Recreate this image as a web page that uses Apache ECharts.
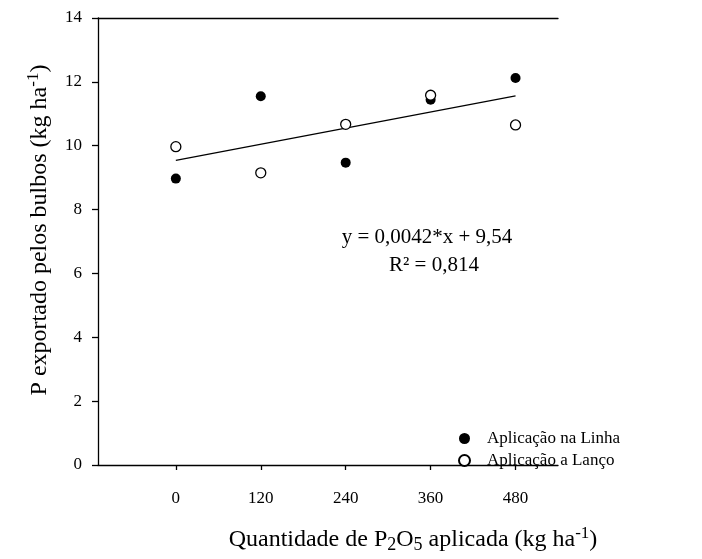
<!DOCTYPE html>
<html>
<head>
<meta charset="utf-8">
<script src="https://cdn.jsdelivr.net/npm/echarts@6/dist/echarts.min.js"></script>
<style>
  html, body { margin: 0; padding: 0; background: #fff; }
  #chart { width: 702px; height: 559px; }
</style>
</head>
<body>
<div id="chart"></div>
<script>
// doses de P2O5 (kg/ha)
const doses = [0, 120, 240, 360, 480]
const linha = [8.97, 11.55, 9.47, 11.44, 12.12]
const lanco = [9.97, 9.15, 10.67, 11.58, 10.65]
// reta ajustada, pontos extremos
const fitX = [0, 480]
const fitY = [9.54, 11.56]
const yTicks = [0, 2, 4, 6, 8, 10, 12, 14]

const serif = 'Liberation Serif'
const chart = echarts.init(document.getElementById('chart'))

const pairs = (xs, ys) => xs.map((x, i) => [x, ys[i]])

chart.setOption({
  backgroundColor: '#fff',
  animation: false,
  textStyle: { fontFamily: serif, color: '#000' },
  grid: { left: 98, right: 144, top: 18, bottom: 94 },
  xAxis: [{
    type: 'value',
    min: -110,
    max: 540,
    axisLine: { onZero: false, lineStyle: { color: '#000', width: 1.3 } },
    axisTick: { customValues: doses, length: 5, lineStyle: { color: '#000', width: 1.3 } },
    axisLabel: { customValues: doses, margin: 25, fontSize: 17, fontFamily: serif, color: '#000' },
    splitLine: { show: false }
  }, {
    type: 'value',
    position: 'top',
    min: -110,
    max: 540,
    axisLine: { show: true, onZero: false, lineStyle: { color: '#000', width: 1.3 } },
    axisTick: { show: false },
    axisLabel: { show: false },
    splitLine: { show: false }
  }],
  yAxis: {
    type: 'value',
    min: yTicks[0],
    max: yTicks[yTicks.length - 1],
    interval: 2,
    axisLine: { show: true, onZero: false, lineStyle: { color: '#000', width: 1.3 } },
    axisTick: { show: true, length: 6, lineStyle: { color: '#000', width: 1.3 } },
    axisLabel: { margin: 16, fontSize: 17, fontFamily: serif, color: '#000' },
    splitLine: { show: false }
  },
  legend: {
    orient: 'vertical',
    left: 453,
    top: 425,
    itemWidth: 11,
    itemHeight: 11,
    itemGap: 5,
    textStyle: { fontFamily: serif, fontSize: 17, color: '#000', padding: [0, 0, 0, 12] },
    data: ['Aplicação na Linha', 'Aplicação a Lanço']
  },
  graphic: [{
    type: 'text',
    x: 427,
    y: 237,
    style: {
      text: 'y = 0,0042*x + 9,54', font: '21px "Liberation Serif"', fill: '#000',
      textAlign: 'center', textVerticalAlign: 'middle'
    }
  }, {
    type: 'text',
    x: 434,
    y: 265,
    style: {
      text: 'R² = 0,814', font: '21px "Liberation Serif"', fill: '#000',
      textAlign: 'center', textVerticalAlign: 'middle'
    }
  }, {
    type: 'text',
    x: 413,
    y: 540,
    style: {
      text: 'Quantidade de P{sub|2}O{sub|5} aplicada (kg ha{sup|-1})',
      font: '24px "Liberation Serif"',
      fill: '#000',
      textAlign: 'center',
      textVerticalAlign: 'middle',
      rich: {
        sub: { fontFamily: serif, fontSize: 18, fill: '#000', padding: [11, 0, 0, 0] },
        sup: { fontFamily: serif, fontSize: 17, fill: '#000', padding: [0, 0, 13, 0] }
      }
    }
  }, {
    type: 'text',
    x: 40,
    y: 230,
    rotation: Math.PI / 2,
    style: {
      text: 'P exportado pelos bulbos (kg ha{sup|-1})',
      font: '24px "Liberation Serif"',
      fill: '#000',
      textAlign: 'center',
      textVerticalAlign: 'middle',
      rich: {
        sup: { fontFamily: serif, fontSize: 17, fill: '#000', padding: [0, 0, 13, 0] }
      }
    }
  }],
  series: [{
    name: 'Aplicação na Linha',
    type: 'scatter',
    data: pairs(doses, linha),
    symbol: 'circle',
    symbolSize: 10,
    itemStyle: { color: '#000', opacity: 1 },
    z: 3
  }, {
    name: 'Aplicação a Lanço',
    type: 'scatter',
    data: pairs(doses, lanco),
    symbol: 'circle',
    symbolSize: 10,
    itemStyle: { color: '#fff', borderColor: '#000', borderWidth: 1.3, opacity: 1 },
    z: 4
  }, {
    name: 'ajuste',
    type: 'line',
    data: pairs(fitX, fitY),
    symbol: 'none',
    lineStyle: { color: '#000', width: 1.2 },
    z: 2
  }]
})
</script>
</body>
</html>
